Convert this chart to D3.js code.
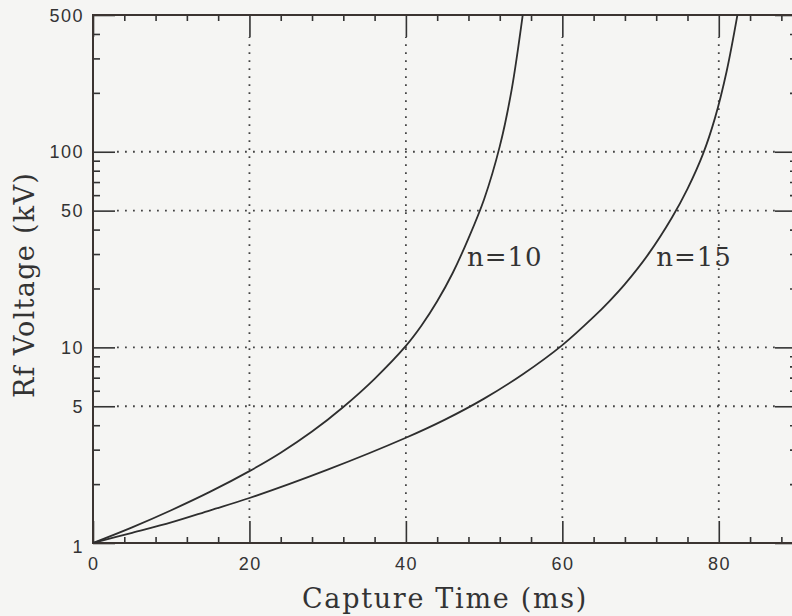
<!DOCTYPE html>
<html>
<head>
<meta charset="utf-8">
<script src="https://cdn.jsdelivr.net/npm/d3@7"></script>
<style>
  html, body { margin: 0; padding: 0; background: #f5f5f3; }
  svg { display: block; }
</style>
</head>
<body>
<script>
// ---- data ----
const tN10 = [0, 5, 10, 15, 20, 24, 28, 32, 36, 40, 42, 44, 46, 48, 50, 52, 53.5, 55];
const vN10 = [1, 1.202, 1.471, 1.83, 2.331, 2.894, 3.711, 4.96, 6.91, 10.17, 12.93, 17.2, 24.07, 36.1, 57.2, 106.5, 205.3, 521.8];
const tN15 = [0, 5, 10, 15, 20, 30, 40, 45, 50, 55, 60, 64, 66, 68, 71, 74, 76, 78, 79.5, 81, 82.5];
const vN15 = [1, 1.128, 1.274, 1.47, 1.698, 2.371, 3.451, 4.272, 5.47, 7.311, 10.27, 14.31, 17.2, 21.06, 29.96, 45.97, 64.6, 97.8, 148.1, 257.3, 531.5];
const seriesLabels = ["n=10", "n=15"];
const labelPos = [[47.8, 27], [72, 27]];   // data coordinates of labels (t, kV)
const xMajor = [0, 20, 40, 60, 80];
const xMinor = [4, 8, 12, 16, 24, 28, 32, 36, 44, 48, 52, 56, 64, 68, 72, 76, 84, 88];
const yMajor = [1, 5, 10, 50, 100, 500];
const yMinor = [2, 3, 4, 6, 7, 8, 9, 20, 30, 40, 60, 70, 80, 90, 200, 300, 400];
const xGrid = [20, 40, 60, 80];
const yGrid = [5, 10, 50, 100];
const xTitle = "Capture Time (ms)";
const yTitle = "Rf Voltage (kV)";

// ---- layout ----
const W = 792, H = 616;
const L = 93, R = 797, T = 15, B = 543;
const ink = "#333";
const frameInk = "#3b3431";

const svg = d3.select("body").append("svg").attr("width", W).attr("height", H);
svg.append("rect").attr("width", W).attr("height", H).attr("fill", "#f5f5f3");

const x = d3.scaleLinear().domain([0, 90]).range([L, R]);
const y = d3.scaleLog().domain([1, 500]).range([B, T]);

// grid
const gridStyle = g => g.attr("stroke", "#444").attr("stroke-width", 1.8)
  .attr("stroke-dasharray", "1.8,6.2").attr("fill", "none");
svg.append("g").selectAll("line").data(yGrid).join("line")
  .attr("x1", L + 24).attr("x2", R - 22)
  .attr("y1", d => y(d)).attr("y2", d => y(d)).call(gridStyle);
svg.append("g").selectAll("line").data(xGrid).join("line")
  .attr("x1", d => x(d)).attr("x2", d => x(d))
  .attr("y1", B - 25).attr("y2", T + 22).call(gridStyle);

// axes via d3 axis generators (ticks only, labels separate)
function tickAxis(gen, scale, vals, len, tr) {
  const a = gen(scale).tickValues(vals).tickSize(len).tickFormat("");
  const g = svg.append("g").attr("transform", tr).call(a);
  g.select(".domain").remove();
  g.selectAll(".tick line").attr("stroke", ink).attr("stroke-width", 1.6);
  return g;
}
tickAxis(d3.axisTop, x, xMajor, 22, `translate(0,${B})`);
tickAxis(d3.axisTop, x, xMinor, 6, `translate(0,${B})`);
tickAxis(d3.axisBottom, x, xMajor, 22, `translate(0,${T})`);
tickAxis(d3.axisBottom, x, xMinor, 6, `translate(0,${T})`);
tickAxis(d3.axisRight, y, yMajor, 22, `translate(${L},0)`);
tickAxis(d3.axisRight, y, yMinor, 7, `translate(${L},0)`);
tickAxis(d3.axisLeft, y, yMajor, 22, `translate(${R},0)`);
tickAxis(d3.axisLeft, y, yMinor, 7, `translate(${R},0)`);

// frame
svg.append("rect").attr("x", L).attr("y", T).attr("width", R - L).attr("height", B - T)
  .attr("fill", "none").attr("stroke", frameInk).attr("stroke-width", 2);

// tick labels
const tickFont = "'Liberation Sans', Arial, sans-serif";
svg.append("g").selectAll("text").data(xMajor).join("text")
  .attr("x", d => x(d) + 0.75).attr("y", 570)
  .attr("text-anchor", "middle")
  .attr("font-family", tickFont).attr("font-size", 18).attr("letter-spacing", 1.5)
  .attr("fill", "#333").text(d => d);
svg.append("g").selectAll("text").data(yMajor).join("text")
  .attr("x", 84).attr("y", d => d === 1 ? 553 : y(d) + 6.5)
  .attr("text-anchor", "end")
  .attr("font-family", tickFont).attr("font-size", 18).attr("letter-spacing", 1.5)
  .attr("fill", "#333").text(d => d);

// curves
svg.append("clipPath").attr("id", "plot").append("rect")
  .attr("x", L).attr("y", T).attr("width", R - L).attr("height", B - T);
const line = d3.line().x(d => x(d[0])).y(d => y(d[1])).curve(d3.curveCatmullRom.alpha(0.5));
const series = [d3.zip(tN10, vN10), d3.zip(tN15, vN15)];
svg.append("g").attr("clip-path", "url(#plot)").selectAll("path").data(series).join("path")
  .attr("d", line).attr("fill", "none").attr("stroke", "#2e2e2e").attr("stroke-width", 1.8);

// series labels
const serif = "'DejaVu Serif', 'Liberation Serif', serif";
svg.append("g").selectAll("text").data(seriesLabels).join("text")
  .attr("x", (d, i) => x(labelPos[i][0])).attr("y", 266)
  .attr("font-family", serif).attr("font-size", 26).attr("letter-spacing", 1)
  .attr("fill", "#333").text(d => d);

// axis titles
svg.append("text").attr("x", 445).attr("y", 608).attr("text-anchor", "middle")
  .attr("font-family", serif).attr("font-size", 27).attr("letter-spacing", 1.7)
  .attr("fill", "#333").text(xTitle);
svg.append("text").attr("transform", "translate(34,285) rotate(-90)")
  .attr("text-anchor", "middle")
  .attr("font-family", serif).attr("font-size", 27).attr("letter-spacing", 1.3)
  .attr("fill", "#333").text(yTitle);
</script>
</body>
</html>
